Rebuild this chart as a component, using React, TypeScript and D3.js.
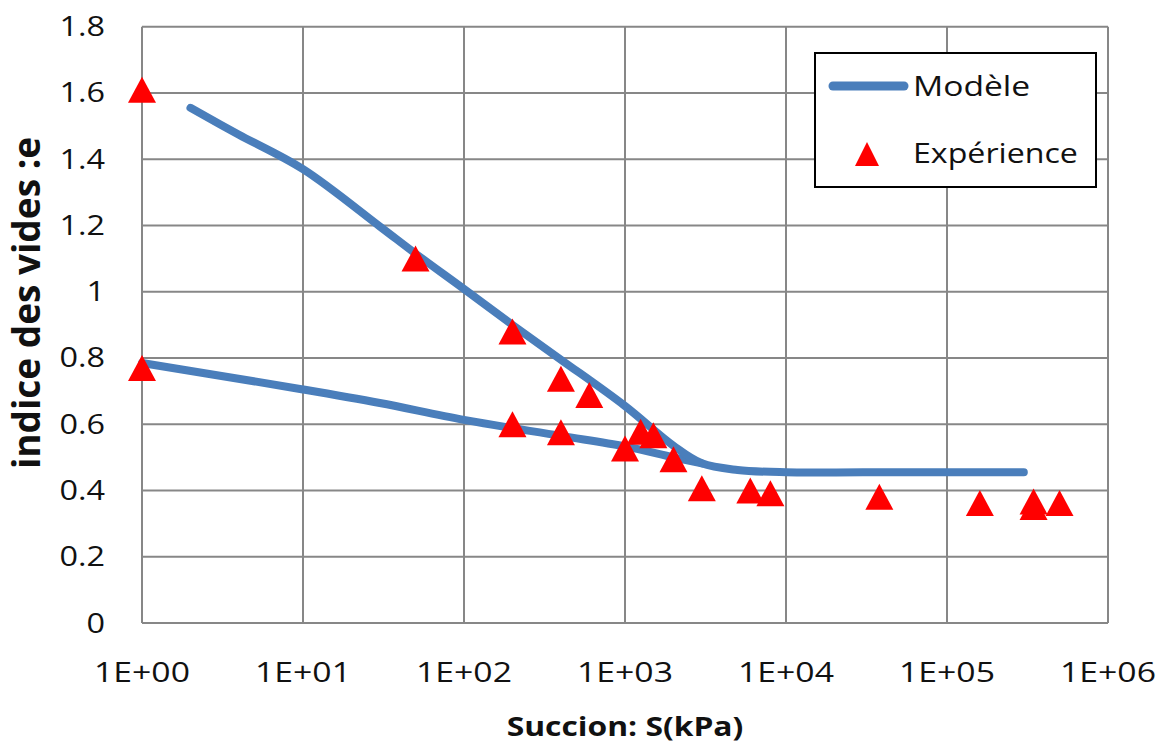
import React from 'react';
import * as d3 from 'd3';

// Succion (kPa) / indice des vides - mesures
const expSuction = [1, 1, 50, 200, 200, 400, 400, 600, 1000, 1250, 1500, 2000, 3000, 6000, 8000, 38000, 160000, 345000, 345000, 500000];
const expVoid = [1.61, 0.77, 1.1, 0.88, 0.6, 0.737, 0.576, 0.688, 0.527, 0.577, 0.567, 0.494, 0.407, 0.4, 0.392, 0.381, 0.362, 0.367, 0.35, 0.362];

// modèle : branche haute et branche basse
const modelUpperS = [2, 4, 10, 30, 50, 100, 200, 400, 1000, 2000, 3000, 5000, 10000, 30000, 100000, 300000];
const modelUpperE = [1.555, 1.474, 1.37, 1.197, 1.115, 1.008, 0.9, 0.795, 0.655, 0.535, 0.482, 0.462, 0.455, 0.455, 0.455, 0.455];
const modelLowerS = [1, 10, 30, 100, 400, 1000, 2000, 3000];
const modelLowerE = [0.785, 0.705, 0.664, 0.613, 0.565, 0.533, 0.5, 0.482];

const xTicks = [1, 10, 100, 1000, 10000, 100000, 1000000];
const yTicks = [0, 0.2, 0.4, 0.6, 0.8, 1, 1.2, 1.4, 1.6, 1.8];

const W = 1162, H = 745;
const FONT = '"Open Sans", "Noto Sans", sans-serif';
const GRID = '#878787';
const BLUE = '#4a7ebb';
const RED = '#ff0000';

const fmtExp = (v: number) => {
  const p = Math.round(Math.log10(v));
  return '1E+' + (p < 10 ? '0' + p : p);
};
const fmtY = (v: number) => String(+v.toFixed(1));

const tri = (cx: number, cy: number, w = 28, h = 26) =>
  `M${cx},${cy - h / 2}L${cx + w / 2},${cy + h / 2}L${cx - w / 2},${cy + h / 2}Z`;

export default function App() {
  const x = d3.scaleLog().domain([1, 1e6]).range([142, 1108]);
  const y = d3.scaleLinear().domain([0, 1.8]).range([623, 26.7]);

  const line = d3.line<[number, number]>()
    .x(d => x(d[0]))
    .y(d => y(d[1]))
    .curve(d3.curveCatmullRom.alpha(0.5));

  const upper = line(modelUpperS.map((s, i) => [s, modelUpperE[i]]) as [number, number][]);
  const lower = line(modelLowerS.map((s, i) => [s, modelLowerE[i]]) as [number, number][]);

  const sx = 1.2; // étirement horizontal du texte

  return (
    <svg width={W} height={H} style={{ position: 'absolute', left: 0, top: 0, background: '#fff' }}
      fontFamily={FONT}>
      <rect width={W} height={H} fill="#fff" />
      {/* grille */}
      <g stroke={GRID} strokeWidth={2}>
        {yTicks.map(t => (
          <line key={'gy' + t} x1={x(1)} x2={x(1e6)} y1={y(t)} y2={y(t)} />
        ))}
        {xTicks.map(t => (
          <line key={'gx' + t} x1={x(t)} x2={x(t)} y1={y(0)} y2={y(1.8)} />
        ))}
      </g>
      {/* graduations */}
      <g fontSize={27} fill="#111">
        {yTicks.map(t => (
          <text key={'ty' + t} transform={`translate(105,${y(t) + 9.5}) scale(${sx},1)`} textAnchor="end">
            {fmtY(t)}
          </text>
        ))}
        {xTicks.map(t => (
          <text key={'tx' + t} transform={`translate(${x(t)},682) scale(1.25,1)`} textAnchor="middle">
            {fmtExp(t)}
          </text>
        ))}
      </g>
      {/* titres */}
      <text transform={`translate(625,736) scale(${sx},1)`} textAnchor="middle" fontSize={26.5}
        fontWeight="bold" fill="#111">
        Succion: S(kPa)
      </text>
      <text transform="translate(40,303) rotate(-90)" textAnchor="middle" fontSize={37}
        fontWeight="bold" fill="#111">
        indice des vides :e
      </text>
      {/* modèle */}
      <g fill="none" stroke={BLUE} strokeWidth={8} strokeLinecap="round" strokeLinejoin="round">
        <path d={lower || ''} />
        <path d={upper || ''} />
      </g>
      {/* expérience */}
      <g fill={RED}>
        {expSuction.map((s, i) => (
          <path key={'p' + i} d={tri(x(s), y(expVoid[i]))} />
        ))}
      </g>
      {/* légende */}
      <g>
        <rect x={815} y={53} width={281} height={134} fill="#fff" stroke="#000" strokeWidth={2} />
        <line x1={833} x2={904} y1={86} y2={86} stroke={BLUE} strokeWidth={9} strokeLinecap="round" />
        <text transform={`translate(913,96) scale(${sx},1)`} fontSize={28} fill="#111">Modèle</text>
        <path d={tri(867, 154, 24, 24)} fill={RED} />
        <text transform={`translate(913,163) scale(1.17,1)`} fontSize={27.5} fill="#111">Expérience</text>
      </g>
    </svg>
  );
}
